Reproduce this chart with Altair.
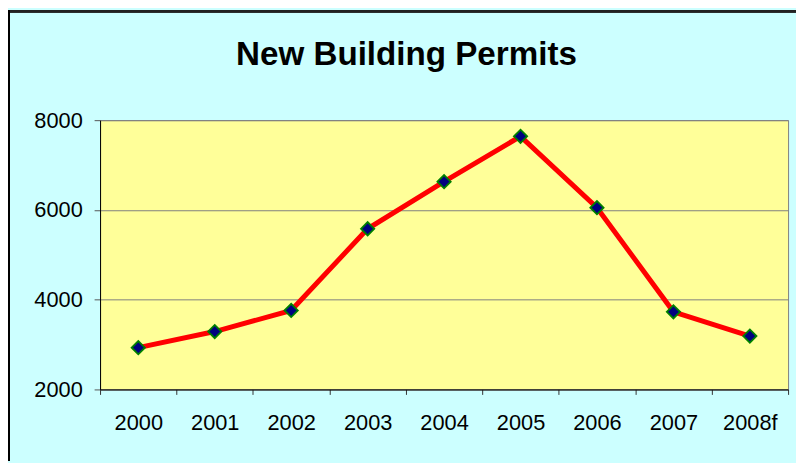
import altair as alt
import pandas as pd

years = ["2000", "2001", "2002", "2003", "2004", "2005", "2006", "2007", "2008f"]
permits = [2930, 3290, 3760, 5580, 6630, 7640, 6050, 3730, 3190]
y_ticks = [2000, 4000, 6000, 8000]

df = pd.DataFrame({"year": years, "permits": permits})

FONT = "Liberation Sans"
PW, PH = 695, 272
PL, PT = 93, 111
TOTAL_W, TOTAL_H = 796, 455

x_enc = alt.X(
    "year:N",
    sort=years,
    bandPosition=0.5,
    scale=alt.Scale(type="band", paddingInner=0, paddingOuter=0),
    axis=alt.Axis(
        title=None,
        labelAngle=0,
        tickBand="extent",
        grid=False,
        domainColor="#000000",
        tickColor="#333333",
        tickSize=5,
        labelPadding=18,
        labelFontSize=22,
        labelFont=FONT,
        labelColor="#000000",
    ),
)
y_enc = alt.Y(
    "permits:Q",
    scale=alt.Scale(domain=[2000, 8000], nice=False, zero=False),
    axis=alt.Axis(
        title=None,
        values=y_ticks,
        format="d",
        grid=True,
        gridColor="#7f7f7f",
        gridWidth=1,
        domainColor="#000000",
        tickColor="#555555",
        tickSize=6,
        labelPadding=12,
        labelFontSize=22,
        labelFont=FONT,
        labelColor="#000000",
    ),
)

base = alt.Chart(df)
line = base.mark_line(color="#ff0000", strokeWidth=5).encode(x=x_enc, y=y_enc)
pts = base.mark_point(
    shape="diamond", filled=True, fill="#000080", stroke="#008000",
    strokeWidth=1.8, size=180, opacity=1,
).encode(x=x_enc, y=y_enc)

frame_top = alt.Chart(df).mark_rule(color="#222222", strokeWidth=2).encode(
    x=alt.value(-PL), x2=alt.value(TOTAL_W - PL), y=alt.value(-PT + 1)
)
frame_left = alt.Chart(df).mark_rule(color="#000000", strokeWidth=2).encode(
    x=alt.value(-PL + 1), y=alt.value(-PT), y2=alt.value(TOTAL_H - PT)
)

chart = (
    alt.layer(line, pts, frame_top, frame_left)
    .properties(
        width=PW,
        height=PH,
        background="#ccffff",
        padding={"left": PL, "top": PT, "right": TOTAL_W - PL - PW, "bottom": TOTAL_H - PT - PH},
        autosize=alt.AutoSizeParams(type="none"),
        title=alt.TitleParams(
            "New Building Permits",
            font=FONT,
            fontSize=33.5,
            fontWeight="bold",
            color="#000000",
            anchor="middle",
            frame="group",
            dx=-38,
            baseline="alphabetic",
            offset=0,
            dy=90,
        ),
    )
    .configure_view(fill="#ffff99", stroke="#7f7f7f", strokeWidth=1)
)

chart.save("out.html", embed_options={"renderer": "svg", "actions": False})
